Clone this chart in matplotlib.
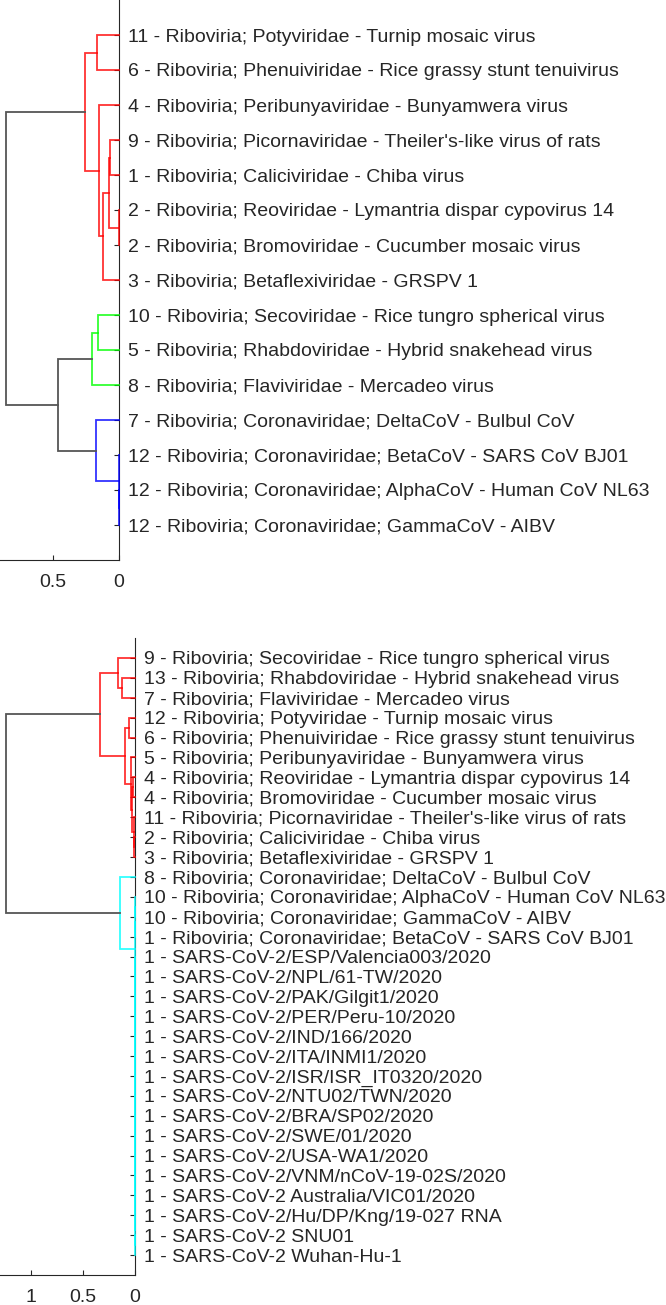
import numpy as np
import matplotlib
matplotlib.use('Agg')
import matplotlib.pyplot as plt
from matplotlib.colors import hsv_to_rgb

# ---------------- data ----------------
top_labels = [
    "11 - Riboviria; Potyviridae - Turnip mosaic virus",
    "6 - Riboviria; Phenuiviridae - Rice grassy stunt tenuivirus",
    "4 - Riboviria; Peribunyaviridae - Bunyamwera virus",
    "9 - Riboviria; Picornaviridae - Theiler's-like virus of rats",
    "1 - Riboviria; Caliciviridae - Chiba virus",
    "2 - Riboviria; Reoviridae - Lymantria dispar cypovirus 14",
    "2 - Riboviria; Bromoviridae - Cucumber mosaic virus",
    "3 - Riboviria; Betaflexiviridae - GRSPV 1",
    "10 - Riboviria; Secoviridae - Rice tungro spherical virus",
    "5 - Riboviria; Rhabdoviridae - Hybrid snakehead virus",
    "8 - Riboviria; Flaviviridae - Mercadeo virus",
    "7 - Riboviria; Coronaviridae; DeltaCoV - Bulbul CoV",
    "12 - Riboviria; Coronaviridae; BetaCoV - SARS CoV BJ01",
    "12 - Riboviria; Coronaviridae; AlphaCoV - Human CoV NL63",
    "12 - Riboviria; Coronaviridae; GammaCoV - AIBV",
]
# linkage rows: node ids 0..n-1 are leaves (in display order), n+i is row i
top_left   = [0, 3, 5, 16, 18, 2, 15, 8, 22, 13, 12, 11, 23, 21]
top_right  = [1, 4, 6, 17, 7, 19, 20, 9, 10, 14, 24, 25, 26, 27]
top_height = [0.169, 0.068, 0.003, 0.073, 0.124, 0.149, 0.255,
              0.161, 0.207, 0.0, 0.0, 0.177, 0.46, 0.856]
top_threshold = 0.35
top_xticks = [0.5, 0]

bot_labels = [
    "9 - Riboviria; Secoviridae - Rice tungro spherical virus",
    "13 - Riboviria; Rhabdoviridae - Hybrid snakehead virus",
    "7 - Riboviria; Flaviviridae - Mercadeo virus",
    "12 - Riboviria; Potyviridae - Turnip mosaic virus",
    "6 - Riboviria; Phenuiviridae - Rice grassy stunt tenuivirus",
    "5 - Riboviria; Peribunyaviridae - Bunyamwera virus",
    "4 - Riboviria; Reoviridae - Lymantria dispar cypovirus 14",
    "4 - Riboviria; Bromoviridae - Cucumber mosaic virus",
    "11 - Riboviria; Picornaviridae - Theiler's-like virus of rats",
    "2 - Riboviria; Caliciviridae - Chiba virus",
    "3 - Riboviria; Betaflexiviridae - GRSPV 1",
    "8 - Riboviria; Coronaviridae; DeltaCoV - Bulbul CoV",
    "10 - Riboviria; Coronaviridae; AlphaCoV - Human CoV NL63",
    "10 - Riboviria; Coronaviridae; GammaCoV - AIBV",
    "1 - Riboviria; Coronaviridae; BetaCoV - SARS CoV BJ01",
    "1 - SARS-CoV-2/ESP/Valencia003/2020",
    "1 - SARS-CoV-2/NPL/61-TW/2020",
    "1 - SARS-CoV-2/PAK/Gilgit1/2020",
    "1 - SARS-CoV-2/PER/Peru-10/2020",
    "1 - SARS-CoV-2/IND/166/2020",
    "1 - SARS-CoV-2/ITA/INMI1/2020",
    "1 - SARS-CoV-2/ISR/ISR_IT0320/2020",
    "1 - SARS-CoV-2/NTU02/TWN/2020",
    "1 - SARS-CoV-2/BRA/SP02/2020",
    "1 - SARS-CoV-2/SWE/01/2020",
    "1 - SARS-CoV-2/USA-WA1/2020",
    "1 - SARS-CoV-2/VNM/nCoV-19-02S/2020",
    "1 - SARS-CoV-2 Australia/VIC01/2020",
    "1 - SARS-CoV-2/Hu/DP/Kng/19-027 RNA",
    "1 - SARS-CoV-2 SNU01",
    "1 - SARS-CoV-2 Wuhan-Hu-1",
]
bot_left = [1, 0, 3, 6, 9, 8, 34, 5, 33, 32,
            29, 28, 27, 26, 25, 24, 23, 22, 21, 20, 19, 18, 17, 16, 15,
            12, 56, 57, 11, 40]
bot_right = [2, 31, 4, 7, 10, 35, 36, 37, 38, 39,
             30, 41, 42, 43, 44, 45, 46, 47, 48, 49, 50, 51, 52, 53, 54,
             13, 14, 55, 58, 59]
bot_height = [0.128, 0.167, 0.055, 0.02, 0.005, 0.012, 0.025, 0.038, 0.097, 0.337,
              0.0, 0.0, 0.0, 0.0, 0.0, 0.0, 0.0, 0.0, 0.0, 0.0, 0.0, 0.0, 0.0, 0.0, 0.0,
              0.002, 0.003, 0.004, 0.14, 1.243]
bot_threshold = 0.87
bot_xticks = [1, 0.5, 0]

# ---------------- style ----------------
plt.rcParams['font.family'] = ['Liberation Sans', 'DejaVu Sans']
TXT = '#262626'
ABOVE = '#555555'
FS = 14

fig = plt.figure(figsize=(6.66, 13.05), dpi=100)


def draw_dendro(ax, labels, left, right, height, threshold):
    n = len(labels)
    pos = {i: float(i + 1) for i in range(n)}
    hgt = {i: 0.0 for i in range(n)}
    children = {}
    for r, (a, b, h) in enumerate(zip(left, right, height)):
        node = n + r
        pos[node] = (pos[a] + pos[b]) / 2.0
        hgt[node] = h
        children[node] = (a, b)
    parent = {}
    for node, (a, b) in children.items():
        parent[a] = node
        parent[b] = node
    # cluster roots: internal nodes below threshold whose parent is above it
    roots = [nd for nd in children if hgt[nd] < threshold and
             (nd not in parent or hgt[parent[nd]] >= threshold)]
    roots.sort(key=lambda nd: pos[nd])
    k = len(roots)
    color_of = {}
    for j, rt in enumerate(roots):
        col = hsv_to_rgb((j / k, 1.0, 1.0))
        stack = [rt]
        while stack:
            nd = stack.pop()
            if nd in children:
                color_of[nd] = col
                stack.extend(children[nd])
    for node, (a, b) in children.items():
        col = color_of.get(node, ABOVE)
        h = hgt[node]
        xs = [hgt[a], h, h, hgt[b]]
        ys = [pos[a], pos[a], pos[b], pos[b]]
        ax.plot(xs, ys, color=col, lw=1.3, alpha=0.8 if node in color_of else 1.0,
                solid_joinstyle='miter', clip_on=False, zorder=3)
    ax.set_yticks(range(1, n + 1))
    ax.set_yticklabels(labels)
    ax.set_ylim(n + 1, 0)


def style_axes(ax, xmax, xticks):
    ax.set_xlim(xmax, 0)
    ax.set_xticks(xticks)
    ax.set_xticklabels([('%g' % t) for t in xticks])
    for s in ['top', 'left']:
        ax.spines[s].set_visible(False)
    for s in ['bottom', 'right']:
        ax.spines[s].set_color(TXT)
        ax.spines[s].set_linewidth(0.8)
    ax.yaxis.tick_right()
    ax.tick_params(axis='y', direction='in', length=3.5, width=0.8, color=TXT,
                   labelcolor=TXT, labelsize=FS, pad=6.5)
    ax.tick_params(axis='x', direction='in', length=3.5, width=0.8, color=TXT,
                   labelcolor=TXT, labelsize=FS, pad=10)
    ax.patch.set_visible(False)


W, H = 666.0, 1305.0
ax1 = fig.add_axes([0.0, (H - 560) / H, 119 / W, 560 / H])
draw_dendro(ax1, top_labels, top_left, top_right, top_height, top_threshold)
style_axes(ax1, 119 / 132.0, top_xticks)

ax2 = fig.add_axes([0.0, (H - 1275) / H, 135 / W, 637 / H])
draw_dendro(ax2, bot_labels, bot_left, bot_right, bot_height, bot_threshold)
style_axes(ax2, 135 / 104.0, bot_xticks)

fig.savefig('out.png', dpi=100, facecolor='white')
